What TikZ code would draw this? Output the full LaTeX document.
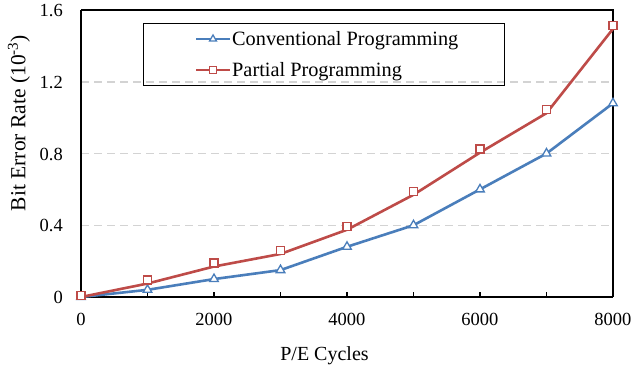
\documentclass[tikz,border=0pt]{standalone}
\usepackage{fontspec}
\setmainfont{Liberation Serif}
\usetikzlibrary{shapes.geometric}
\definecolor{cblue}{HTML}{4A7EBB}
\definecolor{cred}{HTML}{BE4B48}
\definecolor{cgrid}{HTML}{D3D3D3}
\tikzset{
  gridline/.style={cgrid, line width=1.5pt, dash pattern=on 8pt off 5pt},
  frameline/.style={black, line width=1.2pt},
  axisline/.style={black, line width=1.8pt},
  serieblue/.style={cblue, line width=2.6pt, line join=round},
  seriered/.style={cred, line width=2.6pt, line join=round},
  trimark/.style={regular polygon, regular polygon sides=3, draw=cblue, fill=white, line width=1.3pt, minimum size=10pt, inner sep=0pt},
  sqmark/.style={rectangle, draw=cred, fill=white, line width=1.3pt, minimum size=8pt, inner sep=0pt},
  ticklab/.style={font=\fontsize{18.5}{20}\selectfont, inner sep=0pt},
  titlelab/.style={font=\fontsize{20}{22}\selectfont, inner sep=0pt},
  legtext/.style={font=\fontsize{20.3}{22}\selectfont, inner sep=0pt, anchor=base west},
}
\begin{document}
\begin{tikzpicture}[x=1pt,y=-1pt]
\useasboundingbox (0,0) rectangle (634,368);
\fill[white] (0,0) rectangle (634,368);
\begin{scope}[shift={(81,297)}, x=0.0665pt, y=179.375pt]
  \foreach \v in {0.4,0.8,1.2} \draw[gridline] (0,\v) -- (8000,\v);
  \draw[frameline] (0,1.6) -- (8000,1.6) -- (8000,0);
  \foreach \t in {1000,2000,...,7000} \draw[frameline] (\t,0) -- ++(0pt,5pt);
  \draw[axisline] (0,1.6) -- (0,0) -- (8000,0);
  % tick labels
  \foreach \t in {0,2000,4000,6000,8000}
    \node[ticklab, anchor=base] (xl\t) at ([yshift=-28pt]\t,0) {\t};
  \foreach \v/\l/\n in {0/0/a,0.4/0.4/b,0.8/0.8/c,1.2/1.2/d,1.6/1.6/e}
    \node[ticklab, anchor=base east] (yl\n) at ([xshift=-18pt,yshift=-6.5pt]0,\v) {\l};
  % series
  \draw[serieblue] (0,0) -- (1000,0.04) -- (2000,0.1) -- (3000,0.15) -- (4000,0.28)
     -- (5000,0.4) -- (6000,0.6) -- (7000,0.8) -- (8000,1.08);
  \draw[seriered] (0,0) -- (1000,0.075) -- (2000,0.17) -- (3000,0.24) -- (4000,0.375)
     -- (5000,0.57) -- (6000,0.805) -- (7000,1.025) -- (8000,1.495);
  \foreach \x/\y/\n in {0/0/0,1000/0.04/1,2000/0.1/2,3000/0.15/3,4000/0.28/4,5000/0.4/5,6000/0.6/6,7000/0.8/7,8000/1.08/8}
    \node[trimark] (b\n) at (\x,\y) {};
  \foreach \x/\y/\n in {0/0.01/0,1000/0.095/1,2000/0.19/2,3000/0.26/3,4000/0.395/4,5000/0.59/5,6000/0.825/6,7000/1.045/7,8000/1.515/8}
    \node[sqmark] (r\n) at (\x,\y) {};
\end{scope}
% axis titles
\node[titlelab, rotate=90, font=\fontsize{21.5}{22}\selectfont] (ytitle) at (19,123) {Bit Error Rate (10\textsuperscript{-3})};
\node[titlelab, anchor=base] (xtitle) at (324.5,360) {P/E Cycles};
% legend
\node[draw, line width=1.2pt, minimum width=361pt, minimum height=62pt, inner sep=0pt, anchor=north west] (legend) at (143,23) {};
\coordinate (lb1) at (196,39);
\coordinate (lb2) at (230,39);
\coordinate (lr1) at (196,70);
\coordinate (lr2) at (230,70);
\draw[serieblue] (lb1) -- (lb2);
\draw[seriered] (lr1) -- (lr2);
\node[trimark, minimum size=8pt] (lbm) at (213,39) {};
\node[sqmark, minimum size=7pt] (lrm) at (213,70) {};
\node[legtext] (lbt) at (232,45) {Conventional Programming};
\node[legtext] (lrt) at (232,76) {Partial Programming};
\end{tikzpicture}
\end{document}
